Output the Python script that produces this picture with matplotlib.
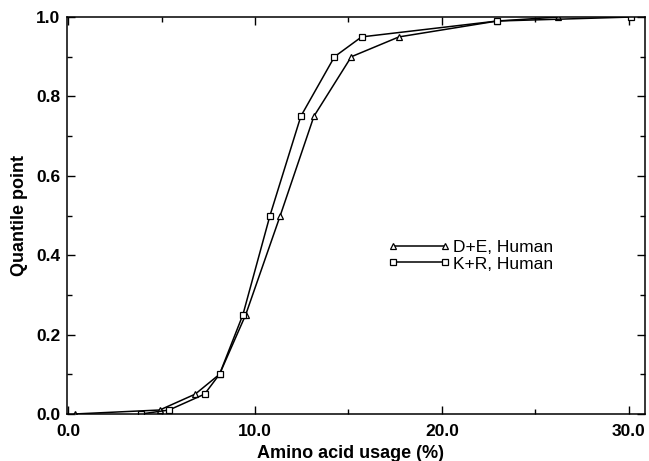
import matplotlib
matplotlib.use("Agg")
import matplotlib.pyplot as plt
from matplotlib.ticker import MultipleLocator, FormatStrFormatter

plt.rcParams['font.family'] = ['Liberation Sans', 'DejaVu Sans']

de_x = [0.35, 4.9, 6.8, 8.1, 9.5, 11.35, 13.15, 15.15, 17.7, 22.95, 26.2]
de_y = [0.0, 0.01, 0.05, 0.10, 0.25, 0.50, 0.75, 0.90, 0.95, 0.99, 1.0]
kr_x = [3.9, 5.4, 7.3, 8.1, 9.35, 10.8, 12.45, 14.25, 15.7, 22.95, 30.1]
kr_y = [0.0, 0.01, 0.05, 0.10, 0.25, 0.50, 0.75, 0.90, 0.95, 0.99, 1.0]
de_label = "D+E, Human"
kr_label = "K+R, Human"
x_ticks = [0, 10, 20, 30]
y_ticks = [0.0, 0.2, 0.4, 0.6, 0.8, 1.0]

fig = plt.figure(figsize=(6.49, 4.61), dpi=100)
ax = fig.add_axes([0.1035, 0.102, 0.890, 0.861])

ax.plot(de_x, de_y, color='black', lw=1.1, marker='^', ms=4.5,
        mfc='white', mec='black', mew=0.9, label=de_label)
ax.plot(kr_x, kr_y, color='black', lw=1.1, marker='s', ms=4.2,
        mfc='white', mec='black', mew=0.9, label=kr_label)

ax.set_xlim(-0.05, 30.85)
ax.set_ylim(0, 1.0)
ax.set_xticks(x_ticks)
ax.set_yticks(y_ticks)
ax.xaxis.set_minor_locator(MultipleLocator(5))
ax.yaxis.set_minor_locator(MultipleLocator(0.1))
ax.xaxis.set_major_formatter(FormatStrFormatter('%.1f'))
ax.yaxis.set_major_formatter(FormatStrFormatter('%.1f'))
ax.tick_params(which='both', direction='in', top=True, right=True, width=1.0)
ax.tick_params(which='major', length=6, labelsize=12.5)
ax.tick_params(axis='x', which='major', pad=7)
ax.tick_params(axis='y', which='major', pad=5)
ax.tick_params(which='minor', length=3.5)
for lab in ax.get_xticklabels() + ax.get_yticklabels():
    lab.set_fontweight('bold')
for s in ax.spines.values():
    s.set_linewidth(1.1)

ax.set_xlabel("Amino acid usage (%)", fontsize=13, fontweight='bold')
ax.xaxis.set_label_coords(0.49, -0.077)
ax.set_ylabel("Quantile point", fontsize=13, fontweight='bold', labelpad=6)

leg = ax.legend(loc='upper left', bbox_to_anchor=(0.543, 0.457), frameon=False,
                fontsize=12.5, numpoints=2, handlelength=3.6, handletextpad=0.15,
                labelspacing=0.1, borderaxespad=0)

fig.savefig("out.png", dpi=100)
